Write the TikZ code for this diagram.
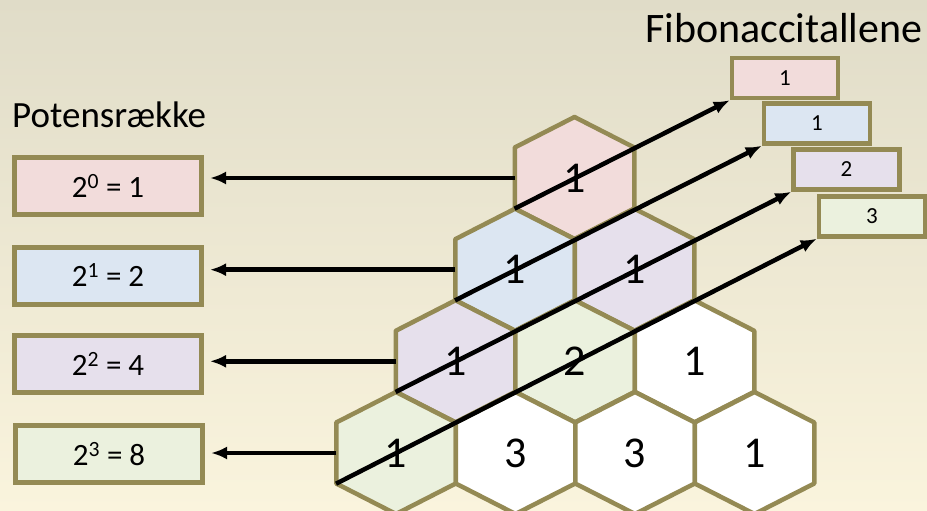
\documentclass[tikz,border=0pt]{standalone}
\usepackage{fontspec}
\setmainfont{Carlito}
\usetikzlibrary{arrows.meta}

\definecolor{hexborder}{RGB}{148,138,84}
\definecolor{pinkfill}{RGB}{242,220,219}
\definecolor{bluefill}{RGB}{220,230,242}
\definecolor{purplefill}{RGB}{230,224,236}
\definecolor{greenfill}{RGB}{235,241,222}
\definecolor{bgtop}{RGB}{224,220,200}
\definecolor{bgbottom}{RGB}{250,244,221}

\begin{document}
\begin{tikzpicture}[
    x=1pt, y=-1pt,
    hexcell/.style={draw=hexborder, line width=4.5pt, line join=round},
    hexnum/.style={minimum width=119.5pt, minimum height=61pt, inner sep=0pt, font=\fontsize{44}{44}\selectfont},
    powbox/.style={draw=hexborder, line width=5pt, minimum width=187pt, minimum height=57pt, font=\fontsize{31}{31}\selectfont},
    fibbox/.style={draw=hexborder, line width=4.5pt, minimum width=106pt, minimum height=40pt, font=\fontsize{23}{23}\selectfont},
    arrow/.style={draw, line width=4.5pt, -{Latex[length=16pt,width=13pt]}}
]
    % Background
    \shade[top color=bgtop, bottom color=bgbottom] (0,0) rectangle (927,511);
    \useasboundingbox (0,0) rectangle (927,511);
    \clip (0,0) rectangle (927,511);

    % Define coordinates
    \def\rowA{178}
    \def\rowB{269.7}
    \def\rowC{361.3}
    \def\rowD{453}

    % Titles
    \node[anchor=base west, inner sep=0pt, font=\fontsize{37}{37}\selectfont] (powtitle) at (12,127) {Potensrække};
    \node[anchor=base west, inner sep=0pt, font=\fontsize{42}{42}\selectfont] (fibtitle) at (645,43) {Fibonaccitallene};

    % Pascal triangle as hexagons
    \foreach \hx/\hy/\hcol/\hname/\hnum in {
        574.5/\rowA/pinkfill/h00/1,
        515/\rowB/bluefill/h10/1, 634.5/\rowB/purplefill/h11/1,
        455.5/\rowC/purplefill/h20/1, 575/\rowC/greenfill/h21/2, 694.5/\rowC/white/h22/1,
        396/\rowD/greenfill/h30/1, 515.5/\rowD/white/h31/3, 635/\rowD/white/h32/3, 754.5/\rowD/white/h33/1} {
        \filldraw[hexcell, fill=\hcol] (\hx,\hy) ++(0,-61) -- ++(59.75,30.5) -- ++(0,61) -- ++(-59.75,30.5) -- ++(-59.75,-30.5) -- ++(0,-61) -- cycle;
        \node[hexnum] (\hname) at (\hx,\hy) {\hnum};
    }

    % Powers of two
    \node[powbox, fill=pinkfill] (p0) at (108,186) {2\textsuperscript{0} = 1};
    \node[powbox, fill=bluefill] (p1) at (108,275.5) {2\textsuperscript{1} = 2};
    \node[powbox, fill=purplefill] (p2) at (108,363.5) {2\textsuperscript{2} = 4};
    \node[powbox, fill=greenfill] (p3) at (109,454) {2\textsuperscript{3} = 8};

    % Fibonacci numbers
    \node[fibbox, fill=pinkfill] (f0) at (785,78) {1};
    \node[fibbox, fill=bluefill] (f1) at (817,123.5) {1};
    \node[fibbox, fill=purplefill] (f2) at (846.5,169.5) {2};
    \node[fibbox, fill=greenfill] (f3) at (872,216.5) {3};

    % Row sums
    \draw[arrow, shorten >=6pt] (h00.west) -- (h00.west -| p0.east);
    \draw[arrow, shorten >=6pt] (h10.west) -- (h10.west -| p1.east);
    \draw[arrow, shorten >=6pt] (h20.west) -- (h20.west -| p2.east);
    \draw[arrow, shorten >=6pt] (h30.west) -- (h30.west -| p3.east);

    % Diagonal sums
    \draw[arrow] (h00.south west) -- (f0.south west);
    \draw[arrow] (h10.south west) -- (f1.south west);
    \draw[arrow] (h20.south west) -- (f2.south west);
    \draw[arrow] (h30.south west) -- (f3.south west);

\end{tikzpicture}
\end{document}
